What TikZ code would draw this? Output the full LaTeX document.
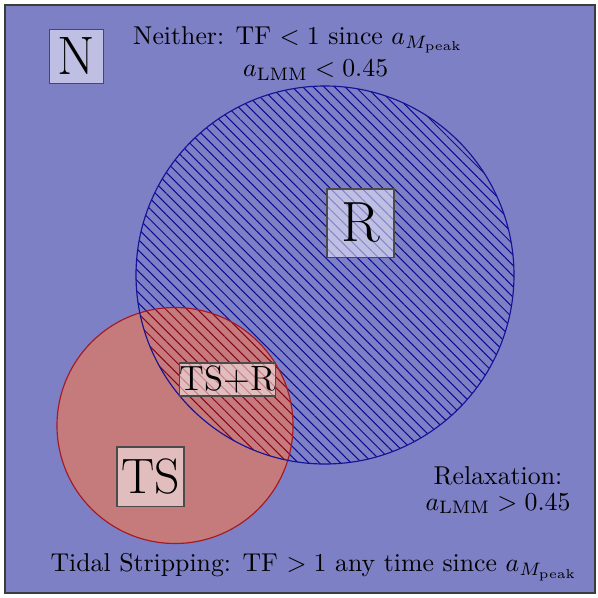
\documentclass[tikz,border=0pt]{standalone}
\usetikzlibrary{patterns.meta}
\definecolor{bgblue}{RGB}{126,128,198}
\definecolor{framegray}{RGB}{60,60,60}
\definecolor{hatchblue}{RGB}{10,10,150}
\definecolor{rborder}{RGB}{20,20,150}
\definecolor{tsred}{RGB}{197,123,123}
\definecolor{tsborder}{RGB}{165,25,35}
\definecolor{hatchred}{RGB}{140,0,30}
\definecolor{boxgray}{RGB}{75,75,75}
\tikzset{
  labelbox/.style={draw=boxgray, fill=white, fill opacity=0.5, text opacity=1,
    inner sep=0pt, line width=0.4pt},
  caption/.style={inner sep=0pt, text=black},
  hatch/.style={pattern={Lines[angle=-45,distance=2.9pt,line width=0.4pt]}}
}
\begin{document}
\begin{tikzpicture}[x=0.388pt,y=-0.388pt]
\useasboundingbox (0,0) rectangle (598,598);
\fill[white] (0,0) rectangle (598,598);
\draw[fill=bgblue, draw=framegray, line width=0.5pt] (5,5) rectangle (595,593);
% R circle hatch
\path[hatch, pattern color=hatchblue] (325,275) circle[radius=189];
% TS circle
\fill[tsred] (175,425.5) circle[radius=118];
\begin{scope}
  \clip (325,275) circle[radius=189];
  \path[hatch, pattern color=hatchred] (175,425.5) circle[radius=118];
\end{scope}
\draw[tsborder, line width=0.45pt] (175,425.5) circle[radius=118];
\draw[rborder, line width=0.45pt] (325,275) circle[radius=189];
% label boxes
\node[labelbox, minimum width=21.3pt, minimum height=21.3pt] (N) at (76.5,56.5)
  {\fontsize{21}{24}\selectfont N};
\node[labelbox, minimum width=26pt, minimum height=26.4pt] (R) at (360.5,223)
  {\fontsize{22}{25}\selectfont R};
\node[labelbox, minimum width=26pt, minimum height=22.9pt] (TS) at (150.5,476.5)
  {\fontsize{19.3}{22}\selectfont TS};
\node[labelbox, minimum width=36.9pt, minimum height=12.8pt] (TSR) at (227.5,379.5)
  {\fontsize{13.6}{15}\selectfont TS+R};
% captions
\node[caption, anchor=base west] (nei1) at (132.7,44.3)
  {Neither: TF $<1$ since $a_{M_{\mathrm{peak}}}$};
\node[caption, anchor=base west] (nei2) at (242.7,76.5)
  {$a_{\mathrm{LMM}}<0.45$};
\node[caption, anchor=base] (rel1) at (498,484) {Relaxation:};
\node[caption, anchor=base] (rel2) at (498,510) {$a_{\mathrm{LMM}}>0.45$};
\node[caption, anchor=base west] (tid) at (50,571.7)
  {Tidal Stripping: TF $>1$ any time since $a_{M_{\mathrm{peak}}}$};
\end{tikzpicture}
\end{document}
